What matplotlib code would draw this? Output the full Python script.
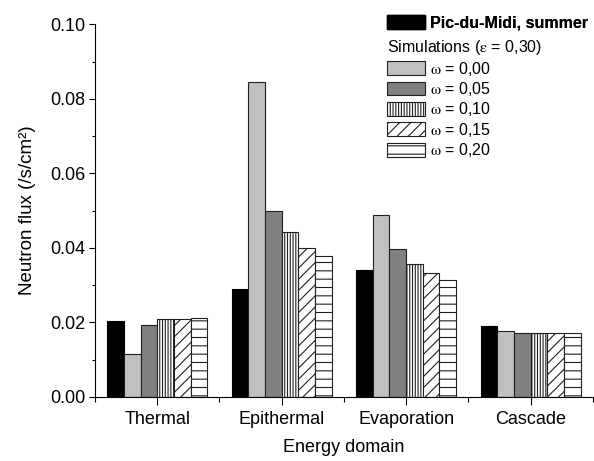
import numpy as np
import matplotlib
matplotlib.use("Agg")
import matplotlib.pyplot as plt
from matplotlib.patches import Patch
from matplotlib.ticker import MultipleLocator, FixedLocator

plt.rcParams['font.family'] = ['Liberation Sans', 'DejaVu Sans']
plt.rcParams['mathtext.fontset'] = 'stix'
plt.rcParams['hatch.linewidth'] = 0.8

# data
domains = ['Thermal', 'Epithermal', 'Evaporation', 'Cascade']
measured = [0.0203, 0.0290, 0.0341, 0.0191]
omega_labels = ['0,00', '0,05', '0,10', '0,15', '0,20']
simulated = [
    [0.0115, 0.0846, 0.0489, 0.0176],   # w = 0.00
    [0.0194, 0.0499, 0.0397, 0.0172],   # w = 0.05
    [0.0209, 0.0444, 0.0357, 0.0172],   # w = 0.10
    [0.0208, 0.0400, 0.0334, 0.0172],   # w = 0.15
    [0.0211, 0.0378, 0.0314, 0.0171],   # w = 0.20
]

colors = ['#c0c0c0', '#808080', 'white', 'white', 'white']
hatches = [None, None, '||||||', '///', '--']

fig = plt.figure(figsize=(5.94, 4.61), dpi=100)
ax = fig.add_axes([0.160, 0.139, 0.838, 0.808])

x = np.arange(len(domains)) + 0.5
w = 0.134

ax.bar(x - 2.5 * w, measured, w, color='black', edgecolor='black', linewidth=0.8)
for i, vals in enumerate(simulated):
    ax.bar(x + (i - 1.5) * w, vals, w, color=colors[i], edgecolor='#202020',
           linewidth=0.8, hatch=hatches[i])

ax.set_xlim(0, 4)
ax.set_ylim(0, 0.10)
ax.xaxis.set_major_locator(FixedLocator(x))
ax.xaxis.set_minor_locator(FixedLocator([0, 1, 2, 3, 4]))
ax.set_xticklabels(domains)
ax.yaxis.set_major_locator(MultipleLocator(0.02))
ax.yaxis.set_minor_locator(MultipleLocator(0.01))
ax.yaxis.set_major_formatter(matplotlib.ticker.FormatStrFormatter('%.2f'))

ax.spines['top'].set_visible(False)
ax.spines['right'].set_visible(False)
ax.tick_params(axis='x', which='major', direction='out', length=6, width=0.8, labelsize=13, pad=4)
ax.tick_params(axis='x', which='minor', direction='out', length=3.5, width=0.8)
ax.tick_params(axis='y', which='major', direction='out', length=4, width=0.8, labelsize=13, pad=3)
ax.tick_params(axis='y', which='minor', direction='out', length=2.5, width=0.8)

ax.set_xlabel('Energy domain', fontsize=13, labelpad=8)
ax.set_ylabel('Neutron flux (/s/cm²)', fontsize=13.5, labelpad=10)

# legends
h1 = [Patch(facecolor='black', edgecolor='black')]
leg1 = fig.legend(h1, ['Pic-du-Midi, summer'], loc='upper left',
                  bbox_to_anchor=(0.651, 0.968), frameon=False, borderpad=0,
                  borderaxespad=0, handlelength=2.4, handleheight=0.95,
                  handletextpad=0.3, prop={'size': 11.5, 'weight': 'bold'})
fig.add_artist(leg1)

h2 = [Patch(facecolor=colors[i], edgecolor='#202020', hatch=hatches[i], linewidth=0.8)
      for i in range(len(omega_labels))]
l2 = [r'$\mathrm{\omega}$ = ' + s for s in omega_labels]
leg2 = fig.legend(h2, l2, loc='upper left', bbox_to_anchor=(0.651, 0.917),
                  frameon=False, borderpad=0, borderaxespad=0,
                  handlelength=2.4, handleheight=0.95, handletextpad=0.3,
                  labelspacing=0.15, fontsize=11.5,
                  title=r'Simulations ($\mathrm{\varepsilon}$ = 0,30)', title_fontsize=11.5,
                  alignment='left')

fig.savefig('out.png', dpi=100)
